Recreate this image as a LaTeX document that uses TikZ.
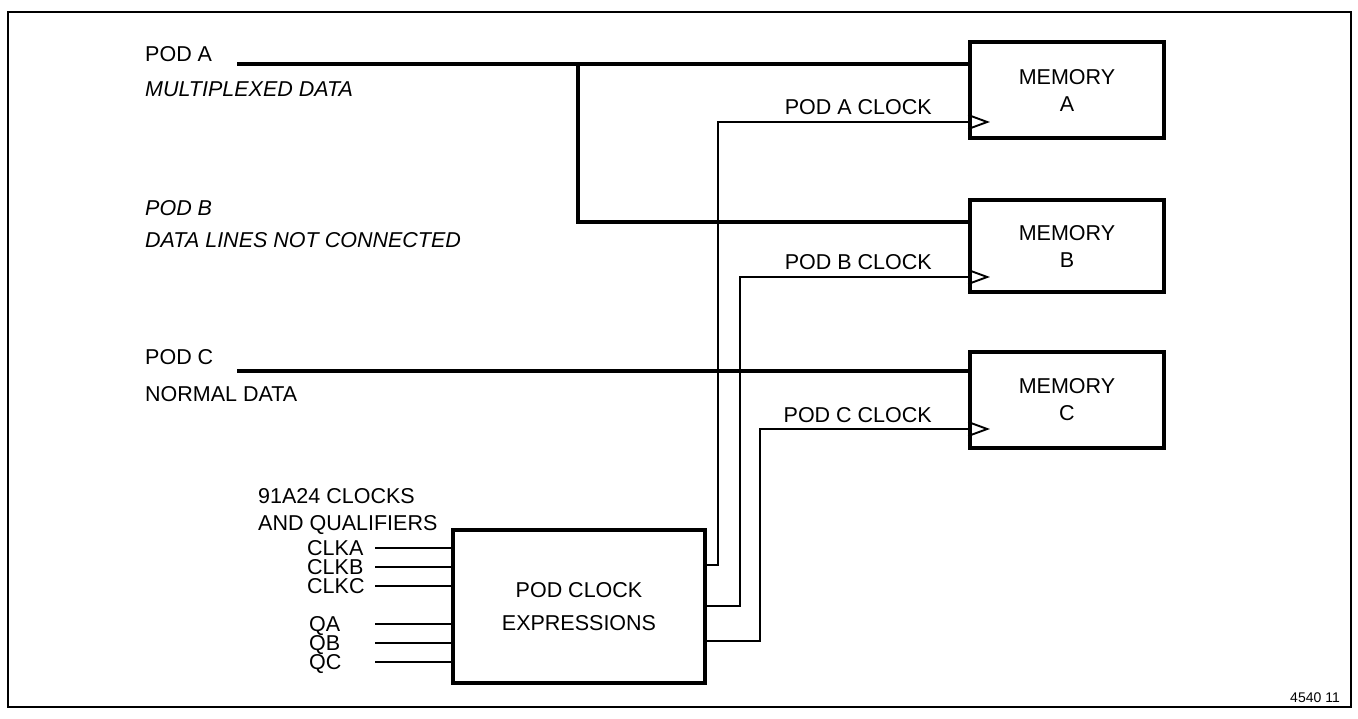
\documentclass[tikz,border=0pt]{standalone}
\usepackage{fontspec}
\setmainfont{Liberation Sans}
\newcommand{\labfont}{\fontsize{21.5}{27}\selectfont}
\begin{document}
\begin{tikzpicture}[x=1pt,y=-1pt,
  box/.style={draw,line width=3.6pt,inner sep=0pt,align=center,font=\labfont},
  data/.style={line width=3.6pt},
  clk/.style={line width=1.9pt},
  wire/.style={line width=1.9pt},
  lab/.style={anchor=base west,inner sep=0pt,font=\labfont},
  ilab/.style={lab,font=\labfont\itshape},
  clab/.style={anchor=base east,inner sep=0pt,font=\labfont}]
\useasboundingbox (0,0) rectangle (1358,719);
\draw[line width=1.8pt] (8,12) rectangle (1351,707);

% boxes
\node[box,minimum width=194pt,minimum height=96pt] (memA) at (1067,90) {MEMORY\\A};
\node[box,minimum width=194pt,minimum height=92pt] (memB) at (1067,246) {MEMORY\\B};
\node[box,minimum width=194pt,minimum height=96pt] (memC) at (1067,400) {MEMORY\\C};
\node[box,minimum width=252pt,minimum height=153pt] (pce) at (579,606.5) {POD CLOCK\\[6pt]EXPRESSIONS};

% labels
\node[lab] (tpa) at (145,62) {POD A};
\node[ilab] (tmux) at (145,97) {MULTIPLEXED DATA};
\node[ilab] (tpb) at (145,216) {POD B};
\node[ilab] (tnc) at (145,248) {DATA LINES NOT CONNECTED};
\node[lab] (tpc) at (145,365) {POD C};
\node[lab] (tnd) at (145,401) {NORMAL DATA};
\node[lab] (tclk1) at (258,503) {91A24 CLOCKS};
\node[lab] (tclk2) at (258,530) {AND QUALIFIERS};
\node[lab] (iclka) at (307,555) {CLKA};
\node[lab] (iclkb) at (307,574) {CLKB};
\node[lab] (iclkc) at (307,593) {CLKC};
\node[lab] (iqa) at (309,631) {QA};
\node[lab] (iqb) at (309,650) {QB};
\node[lab] (iqc) at (309,669) {QC};
\node[clab] (lca) at (932,115) {POD A CLOCK};
\node[clab] (lcb) at (932,270) {POD B CLOCK};
\node[clab] (lcc) at (932,422) {POD C CLOCK};
\node[anchor=base east,inner sep=0pt,font=\fontsize{14}{16}\selectfont] (fig) at (1340,702) {4540 11};

% data lines
\coordinate (pa) at (237,64);
\coordinate (ja) at (578,64);
\coordinate (jb) at (578,222);
\coordinate (pc) at (237,371);
\draw[data] (pa) -- (memA.west |- pa);
\draw[data,line join=miter] (ja) -- (jb) -- (memB.west |- jb);
\draw[data] (pc) -- (memC.west |- pc);

% clock lines
\coordinate (oa) at (pce.east |- 0,565);
\coordinate (ob) at (pce.east |- 0,606);
\coordinate (oc) at (pce.east |- 0,641);
\coordinate (ca) at (memA.west |- 0,122);
\coordinate (cb) at (memB.west |- 0,277);
\coordinate (cc) at (memC.west |- 0,429);
\draw[clk] (oa) -| (718,122) -- (ca);
\draw[clk] (ob) -| (740,277) -- (cb);
\draw[clk] (oc) -| (760,429) -- (cc);
\foreach \c in {ca,cb,cc}{
  \draw[clk,line join=miter] ([yshift=7pt]\c) -- ([xshift=19pt]\c) -- ([yshift=-7pt]\c);
}

% input lines
\foreach \n/\y in {clka/548,clkb/567,clkc/586,qa/624,qb/643,qc/662}{
  \draw[wire] (375,\y) -- (pce.west |- 0,\y);
}
\end{tikzpicture}
\end{document}
